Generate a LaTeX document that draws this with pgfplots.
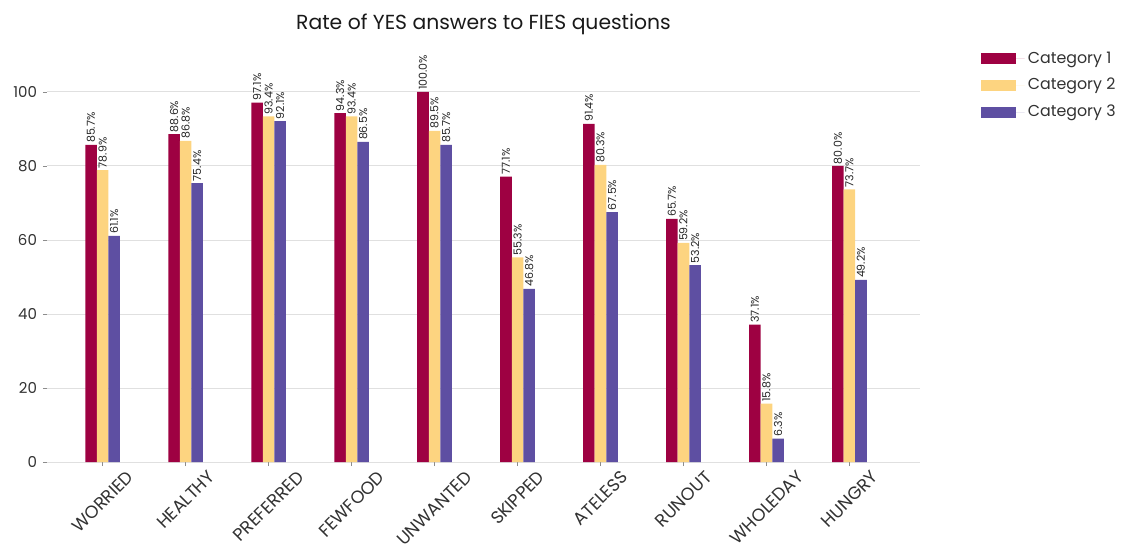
\documentclass[border=0pt]{standalone}
\usepackage{fontspec}
\setmainfont{Poppins}
\usepackage{graphicx}
\usepackage{pgfplots}
\pgfplotsset{compat=1.18}

\definecolor{catA}{RGB}{158,1,66}
\definecolor{catB}{RGB}{253,212,128}
\definecolor{catC}{RGB}{94,79,162}
\definecolor{txt}{RGB}{50,50,50}

% rate of YES answers, one row per FIES question
\pgfplotstableread{
x c1 c2 c3
0 85.7 78.9 61.1
1 88.6 86.8 75.4
2 97.1 93.4 92.1
3 94.3 93.4 86.5
4 100.0 89.5 85.7
5 77.1 55.3 46.8
6 91.4 80.3 67.5
7 65.7 59.2 53.2
8 37.1 15.8 6.3
9 80.0 73.7 49.2
}\fies

\begin{document}
\begin{tikzpicture}
\begin{axis}[
name=ax,
scale only axis,
width=523.8pt, height=244.2pt,
xmin=-0.67, xmax=9.85,
ymin=0, ymax=110,
ybar=0pt, bar width=0.139,
axis line style={draw=none},
ymajorgrids,
grid style={black!12, line width=0.6pt},
ytick={0,20,...,100},
xtick={0,...,9},
xticklabels={\rotatebox{45}{WORRIED},\rotatebox{45}{HEALTHY},\rotatebox{45}{PREFERRED},
  \rotatebox{45}{FEWFOOD},\rotatebox{45}{UNWANTED},\rotatebox{45}{SKIPPED},
  \rotatebox{45}{ATELESS},\rotatebox{45}{RUNOUT},\rotatebox{45}{WHOLEDAY},\rotatebox{45}{HUNGRY}},
xtick pos=lower, ytick pos=left,
tick align=outside,
major tick length=2.5pt,
tick style={black!45, line width=0.5pt},
xticklabel style={anchor=north, yshift=1.5pt, font=\fontsize{10.6}{12}\selectfont, text=txt},
yticklabel style={font=\fontsize{9}{10}\selectfont, text=txt},
/pgf/number format/assume math mode=true,
title={Rate of YES answers to FIES questions},
title style={at={(0.5,1)}, anchor=center, yshift=12.6pt, font=\fontsize{12.2}{14}\selectfont, text=black!90},
nodes near coords={\pgfmathprintnumber[fixed,fixed zerofill,precision=1]{\pgfplotspointmeta}\%},
nodes near coords style={rotate=90, anchor=west, inner sep=1pt, font=\fontsize{6.6}{7.5}\selectfont, text=black!85},
legend cell align=left,
legend style={at={(1.064,1.025)}, anchor=north west, draw=none, fill=none,
  font=\fontsize{9.5}{10}\selectfont, text=txt, row sep=3.5pt},
legend image code/.code={\fill[#1] (0pt,-3.3pt) rectangle (21pt,3.3pt);
  \path (0pt,0pt) -- (26pt,0pt);},
]
\addplot[fill=catA, draw=none] table[x=x, y=c1]{\fies};
\addplot[fill=catB, draw=none] table[x=x, y=c2]{\fies};
\addplot[fill=catC, draw=none] table[x=x, y=c3]{\fies};
\legend{Category 1, Category 2, Category 3}
\end{axis}
\pgfresetboundingbox
\path (ax.south west) ++(-28.2pt,-54.6pt) rectangle ++(676.8pt,331.8pt);
\end{tikzpicture}
\end{document}
